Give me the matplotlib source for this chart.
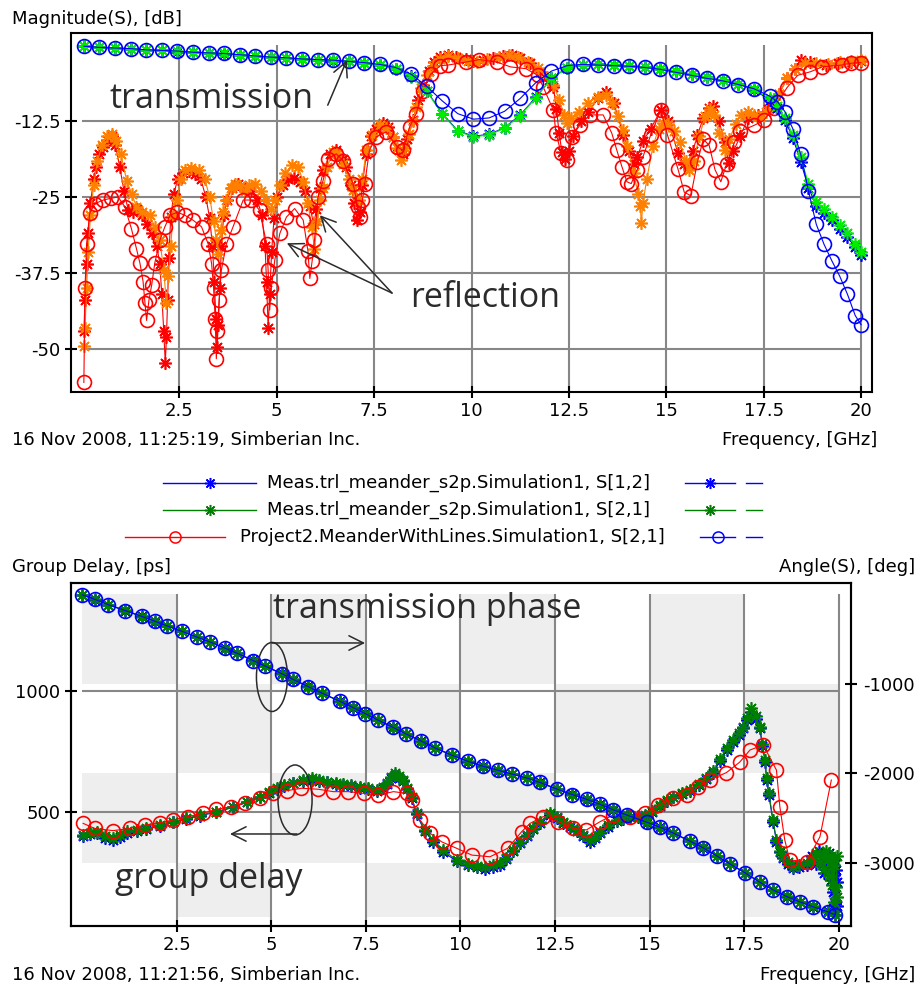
import matplotlib
matplotlib.use("Agg")
import matplotlib.pyplot as plt
from matplotlib.patches import Ellipse, Rectangle
from matplotlib.transforms import blended_transform_factory

plt.rcParams["font.family"] = "DejaVu Sans"
plt.rcParams["font.size"] = 13

# ---------------- magnitude of S-parameters, dB ----------------
tr_freq = [0.05, 0.45, 0.85, 1.25, 1.65, 2.05, 2.45, 2.85, 3.25, 3.65,
           4.05, 4.45, 4.85, 5.25, 5.65, 6.05, 6.45, 6.85, 7.25, 7.65,
           8.05, 8.45, 8.85, 9.25, 9.65, 10.05, 10.45, 10.85, 11.25, 11.65,
           12.05, 12.45, 12.85, 13.25, 13.65, 14.05, 14.45, 14.85, 15.25, 15.65,
           16.05, 16.45, 16.85, 17.25, 17.65, 17.85, 18.05, 18.25, 18.45, 18.65,
           18.85, 19.05, 19.25, 19.45, 19.65, 19.85, 20.0]
s21_sim_db = [-0.2, -0.4, -0.5, -0.6, -0.8, -0.9, -1.0, -1.2, -1.3, -1.4,
              -1.6, -1.8, -2.0, -2.1, -2.3, -2.4, -2.5, -2.7, -2.9, -3.2,
              -3.7, -4.8, -6.8, -9.2, -11.3, -12.2, -12.0, -10.9, -8.8, -6.2,
              -4.3, -3.4, -3.2, -3.3, -3.4, -3.5, -3.7, -4.0, -4.5, -5.0,
              -5.5, -5.9, -6.5, -7.2, -8.4, -9.3, -11.0, -13.8, -18.0, -24.0,
              -29.5, -32.8, -35.5, -38.0, -41.0, -44.5, -46.0]
s21_meas_db = [-0.2, -0.4, -0.5, -0.6, -0.8, -0.9, -1.0, -1.2, -1.3, -1.4,
               -1.6, -1.8, -2.0, -2.1, -2.3, -2.4, -2.5, -2.7, -2.9, -3.3,
               -3.9, -5.2, -7.6, -11.4, -14.2, -15.1, -14.8, -13.7, -11.6, -8.7,
               -5.5, -3.8, -3.3, -3.2, -3.3, -3.4, -3.6, -3.9, -4.3, -4.8,
               -5.3, -5.8, -6.4, -7.3, -8.8, -10.0, -12.0, -14.8, -18.5, -22.8,
               -25.8, -27.0, -28.3, -29.6, -31.0, -32.8, -34.0]
s12_meas_db = [-0.2, -0.4, -0.5, -0.7, -0.8, -0.9, -1.1, -1.2, -1.3, -1.5,
               -1.6, -1.8, -2.0, -2.2, -2.3, -2.4, -2.6, -2.7, -2.9, -3.3,
               -3.9, -5.1, -7.5, -11.3, -14.1, -15.0, -14.7, -13.6, -11.5, -8.6,
               -5.5, -3.8, -3.3, -3.2, -3.3, -3.4, -3.6, -3.9, -4.3, -4.8,
               -5.3, -5.8, -6.4, -7.4, -9.0, -10.3, -12.4, -15.3, -19.2, -23.5,
               -26.4, -27.6, -28.8, -30.2, -31.5, -33.2, -34.5]

s11_sim_freq = [0.05, 0.08, 0.12, 0.20, 0.33, 0.55, 0.75, 0.93, 1.10, 1.27,
                1.40, 1.49, 1.57, 1.62, 1.66, 1.72, 1.79, 1.87, 2.00, 2.13,
                2.26, 2.45, 2.64, 2.85, 3.07, 3.24, 3.33, 3.38, 3.42, 3.45,
                3.48, 3.52, 3.58, 3.71, 3.88, 4.14, 4.35, 4.56, 4.74, 4.78,
                4.82, 4.86, 4.95, 5.08, 5.25, 5.46, 5.68, 5.80, 5.85, 5.91,
                5.97, 6.06, 6.19, 6.32, 6.53, 6.70, 6.96, 7.08, 7.13, 7.20,
                7.26, 7.38, 7.56, 7.81, 8.10, 8.24, 8.41, 8.58, 8.75, 8.95,
                9.20, 9.40, 9.86, 10.20, 10.65, 11.00, 11.40, 11.70, 11.84, 12.10,
                12.17, 12.30, 12.44, 12.57, 12.78, 13.04, 13.38, 13.60, 13.73, 13.86,
                13.99, 14.10, 14.25, 14.40, 14.60, 14.86, 15.03, 15.30, 15.46, 15.63,
                15.80, 15.95, 16.10, 16.25, 16.40, 16.55, 16.75, 16.90, 17.26, 17.50,
                17.77, 18.10, 18.37, 18.70, 19.00, 19.50, 19.75, 20.00]
s11_sim_db = [-55.5, -40.0, -32.7, -27.7, -26.1, -25.5, -25.2, -25.0, -26.6, -30.2,
              -33.5, -35.9, -38.9, -42.5, -45.3, -42.0, -39.5, -35.9, -32.1, -29.9,
              -28.0, -27.5, -28.0, -28.8, -29.9, -32.7, -36.0, -40.0, -45.0, -51.6,
              -47.0, -42.0, -37.0, -32.7, -29.9, -25.5, -25.5, -27.2, -32.7, -37.0,
              -43.6, -40.0, -35.4, -31.0, -28.3, -26.9, -28.8, -33.8, -38.4, -35.5,
              -32.1, -25.0, -22.3, -18.7, -17.9, -19.0, -22.8, -26.6, -28.3, -25.5,
              -22.8, -17.3, -15.1, -14.3, -16.8, -17.3, -13.5, -11.3, -7.5, -4.8,
              -3.4, -3.3, -2.8, -2.4, -2.8, -3.6, -3.9, -5.0, -6.9, -10.7,
              -14.5, -17.8, -18.9, -15.1, -13.2, -11.5, -11.5, -14.5, -17.3, -20.0,
              -22.5, -22.8, -20.5, -18.4, -14.8, -10.7, -14.8, -20.4, -24.2, -24.8,
              -19.2, -15.5, -16.5, -20.5, -22.5, -19.5, -16.0, -14.2, -13.2, -12.4,
              -10.3, -7.0, -5.0, -4.4, -3.6, -3.3, -3.0, -2.9]

s11_meas_freq = [0.05, 0.08, 0.12, 0.16, 0.22, 0.30, 0.37, 0.45, 0.55, 0.65,
                 0.76, 0.86, 0.97, 1.08, 1.19, 1.30, 1.42, 1.55, 1.68, 1.80,
                 1.92, 2.00, 2.05, 2.10, 2.14, 2.17, 2.20, 2.23, 2.28, 2.36,
                 2.46, 2.60, 2.75, 2.90, 3.05, 3.18, 3.28, 3.35, 3.40, 3.44,
                 3.47, 3.50, 3.54, 3.58, 3.64, 3.72, 3.85, 4.00, 4.18, 4.35,
                 4.50, 4.62, 4.70, 4.74, 4.78, 4.82, 4.87, 4.93, 5.02, 5.15,
                 5.30, 5.45, 5.60, 5.72, 5.85, 5.95, 6.02, 6.10, 6.20, 6.36,
                 6.53, 6.70, 6.79, 6.90, 6.98, 7.06, 7.13, 7.20, 7.30, 7.42,
                 7.56, 7.73, 7.85, 7.98, 8.15, 8.24, 8.35, 8.50, 8.62, 8.75,
                 8.90, 9.05, 9.20, 9.40, 9.60, 9.85, 10.05, 10.30, 10.55, 10.80,
                 11.03, 11.25, 11.50, 11.76, 12.00, 12.10, 12.18, 12.25, 12.32, 12.40,
                 12.50, 12.60, 12.80, 13.00, 13.25, 13.46, 13.65, 13.90, 14.05, 14.16,
                 14.25, 14.40, 14.60, 14.86, 15.05, 15.30, 15.45, 15.55, 15.68, 15.80,
                 15.95, 16.10, 16.20, 16.35, 16.50, 16.60, 16.72, 16.90, 17.10, 17.35,
                 17.60, 17.90, 18.10, 18.30, 18.45, 18.70, 19.10, 19.40, 19.75, 20.00]
s11_meas_db = [-47.0, -42.0, -36.0, -31.0, -26.0, -22.0, -20.0, -18.0, -16.8, -15.6,
               -15.0, -16.5, -20.0, -24.0, -27.2, -27.5, -27.0, -28.0, -29.5, -31.0,
               -33.0, -36.0, -41.0, -47.0, -52.3, -48.0, -42.0, -35.0, -28.3, -24.5,
               -22.0, -21.0, -20.8, -21.2, -22.0, -25.0, -28.5, -33.0, -39.0, -45.0,
               -49.7, -46.0, -40.0, -33.0, -28.0, -25.5, -23.5, -22.8, -23.5, -24.0,
               -25.5, -28.0, -33.0, -39.0, -46.5, -41.0, -34.0, -28.5, -25.0, -23.0,
               -22.0, -21.8, -22.5, -24.0, -26.5, -29.5, -27.0, -23.5, -20.6, -17.9,
               -17.3, -18.8, -20.1, -23.0, -26.0, -28.8, -27.5, -23.0, -17.9, -15.0,
               -13.8, -12.9, -13.5, -15.1, -17.3, -17.9, -15.5, -12.4, -9.1, -6.5,
               -4.2, -2.8, -2.0, -1.6, -1.9, -2.3, -2.6, -2.5, -2.1, -1.8,
               -1.6, -2.1, -3.0, -4.4, -5.8, -6.9, -10.5, -14.5, -17.6, -18.8,
               -17.5, -15.0, -12.5, -11.0, -8.8, -7.8, -9.5, -14.8, -17.5, -19.5,
               -18.5, -15.8, -13.8, -10.7, -12.5, -17.8, -19.5, -19.8, -17.5, -14.8,
               -12.0, -10.4, -10.1, -12.5, -16.0, -19.4, -17.5, -15.0, -12.0, -11.5,
               -10.5, -8.0, -5.5, -4.0, -2.5, -2.8, -3.3, -3.0, -2.8, -2.6]

s22_meas_freq = [0.05, 0.08, 0.12, 0.16, 0.22, 0.30, 0.40, 0.52, 0.64, 0.76,
                 0.88, 1.00, 1.15, 1.28, 1.40, 1.55, 1.74, 1.88, 2.00, 2.10,
                 2.17, 2.22, 2.28, 2.34, 2.43, 2.54, 2.64, 2.81, 3.00, 3.15,
                 3.28, 3.38, 3.45, 3.50, 3.56, 3.63, 3.71, 3.82, 3.92, 4.05,
                 4.18, 4.30, 4.45, 4.60, 4.72, 4.85, 4.95, 5.08, 5.22, 5.40,
                 5.55, 5.68, 5.80, 5.90, 5.97, 6.04, 6.12, 6.20, 6.30, 6.44,
                 6.56, 6.70, 6.85, 6.96, 7.10, 7.20, 7.30, 7.45, 7.64, 7.80,
                 7.98, 8.10, 8.20, 8.30, 8.40, 8.50, 8.58, 8.70, 8.85, 9.00,
                 9.20, 9.40, 9.65, 9.90, 10.15, 10.40, 10.70, 10.95, 11.20, 11.45,
                 11.70, 11.95, 12.10, 12.25, 12.38, 12.44, 12.55, 12.75, 13.00, 13.25,
                 13.46, 13.60, 13.76, 13.90, 14.00, 14.16, 14.28, 14.33, 14.36, 14.40,
                 14.50, 14.66, 14.80, 14.92, 15.05, 15.20, 15.35, 15.50, 15.58, 15.70,
                 15.85, 16.00, 16.12, 16.22, 16.35, 16.50, 16.62, 16.78, 16.92, 17.10,
                 17.25, 17.40, 17.55, 17.70, 17.90, 18.10, 18.30, 18.55, 18.85, 19.15,
                 19.45, 19.75, 20.00]
s22_meas_db = [-49.5, -46.5, -40.0, -34.0, -28.0, -23.0, -19.0, -16.5, -15.0, -14.6,
               -15.8, -18.0, -22.3, -24.5, -26.6, -27.5, -28.0, -30.0, -32.1, -37.0,
               -42.5, -38.0, -33.0, -28.0, -25.5, -22.0, -20.6, -20.3, -20.5, -22.0,
               -25.0, -29.0, -32.0, -34.3, -30.5, -27.5, -25.5, -23.5, -22.8, -23.2,
               -24.0, -23.0, -22.8, -24.0, -25.5, -27.0, -25.5, -23.0, -21.0, -19.8,
               -20.0, -22.5, -26.0, -30.0, -33.5, -29.0, -25.5, -23.6, -20.0, -17.6,
               -17.8, -19.5, -22.0, -23.9, -25.5, -22.0, -17.3, -14.8, -13.2, -13.6,
               -15.1, -17.0, -18.9, -17.0, -14.6, -12.5, -10.2, -7.0, -5.0, -3.5,
               -2.3, -1.8, -2.1, -2.6, -2.8, -2.3, -1.9, -1.7, -2.0, -2.8,
               -3.8, -5.2, -6.5, -9.0, -11.5, -12.8, -12.0, -11.0, -9.5, -8.5,
               -8.2, -9.5, -11.7, -14.0, -16.6, -21.0, -24.5, -26.5, -29.3, -26.0,
               -22.0, -16.6, -13.8, -12.8, -13.0, -14.2, -16.0, -19.0, -20.5, -19.0,
               -15.0, -11.6, -10.5, -11.5, -14.5, -17.3, -15.5, -13.0, -11.5, -11.0,
               -11.5, -11.8, -11.0, -10.3, -8.0, -5.5, -4.0, -3.0, -2.9, -3.1,
               -2.8, -2.6, -2.5]

# ---------------- group delay, ps ----------------
gd_sim_freq = [0.03, 0.34, 0.82, 1.27, 1.66, 2.06, 2.41, 2.81, 3.20, 3.55,
               3.95, 4.30, 4.70, 5.05, 5.41, 5.80, 6.24, 6.64, 7.04, 7.44,
               7.83, 8.23, 8.58, 8.71, 8.93, 9.20, 9.50, 9.90, 10.30, 10.78,
               11.25, 11.62, 11.84, 12.19, 12.59, 12.98, 13.33, 13.69, 14.04, 14.48,
               14.87, 15.23, 15.62, 15.98, 16.29, 16.59, 17.03, 17.38, 17.65, 18.00,
               18.35, 18.44, 18.57, 18.70, 19.15, 19.50, 19.80]
gd_sim_ps = [453, 432, 423, 432, 446, 456, 467, 481, 495, 511,
             522, 536, 556, 577, 588, 598, 594, 584, 584, 577,
             570, 584, 577, 550, 467, 412, 377, 350, 322, 315,
             350, 419, 453, 481, 460, 432, 426, 460, 488, 481,
             495, 529, 556, 570, 605, 632, 663, 706, 756, 777,
             673, 522, 384, 302, 295, 398, 632]

gd_meas_freq = [0.03, 0.20, 0.40, 0.60, 0.82, 1.00, 1.20, 1.45, 1.70, 2.05,
                2.41, 2.75, 3.12, 3.55, 3.99, 4.35, 4.70, 4.95, 5.15, 5.35,
                5.58, 5.85, 6.07, 6.25, 6.47, 6.70, 6.90, 7.12, 7.34, 7.55,
                7.79, 7.95, 8.05, 8.17, 8.27, 8.38, 8.48, 8.60, 8.71, 8.84,
                9.06, 9.28, 9.54, 9.90, 10.20, 10.45, 10.65, 10.85, 11.04, 11.20,
                11.40, 11.58, 11.75, 11.92, 12.10, 12.36, 12.55, 12.72, 12.90, 13.07,
                13.25, 13.42, 13.55, 13.69, 13.90, 14.13, 14.30, 14.48, 14.68, 14.87,
                15.05, 15.27, 15.45, 15.62, 15.85, 16.06, 16.30, 16.50, 16.68, 16.86,
                17.05, 17.20, 17.35, 17.47, 17.58, 17.69, 17.80, 17.91, 17.98, 18.05,
                18.09, 18.15, 18.26, 18.35, 18.44, 18.53, 18.65, 18.79, 18.95, 19.15,
                19.30, 19.40, 19.48, 19.55, 19.60, 19.65, 19.70, 19.74, 19.78, 19.81,
                19.84, 19.86, 19.88, 19.90, 19.92, 19.94, 19.96]
gd21_meas_ps = [405, 412, 419, 402, 391, 405, 420, 426, 432, 445,
                460, 474, 488, 501, 522, 543, 563, 584, 598, 610,
                621, 632, 639, 632, 625, 620, 616, 610, 605, 598,
                591, 605, 619, 645, 660, 648, 632, 600, 563, 495,
                426, 384, 343, 302, 285, 278, 274, 280, 288, 310,
                343, 375, 405, 432, 460, 494, 478, 460, 442, 426,
                405, 384, 398, 419, 445, 467, 475, 481, 484, 488,
                505, 529, 548, 563, 577, 591, 615, 639, 668, 720,
                765, 798, 825, 852, 890, 928, 895, 852, 780, 715,
                640, 577, 467, 384, 340, 315, 292, 274, 280, 288,
                300, 330, 290, 320, 265, 340, 300, 235, 320, 200,
                310, 130, 280, 90, 190, 320, 150]
gd12_meas_ps = [400, 408, 414, 392, 383, 398, 415, 422, 428, 442,
                457, 471, 485, 499, 519, 540, 560, 580, 595, 607,
                618, 628, 634, 628, 622, 617, 612, 606, 601, 595,
                588, 600, 614, 640, 652, 642, 628, 596, 558, 490,
                420, 378, 336, 296, 279, 272, 266, 273, 282, 305,
                338, 370, 400, 428, 456, 489, 474, 456, 438, 421,
                400, 378, 392, 414, 440, 462, 471, 478, 481, 485,
                502, 526, 545, 560, 574, 588, 612, 636, 663, 712,
                758, 790, 818, 845, 882, 915, 885, 845, 772, 708,
                632, 570, 460, 378, 333, 308, 285, 268, 274, 282,
                320, 285, 340, 300, 250, 310, 275, 330, 220, 290,
                170, 300, 240, 120, 260, 210, 110]

# ---------------- transmission phase, deg ----------------
ph_freq = [0.01, 0.34, 0.70, 1.14, 1.58, 1.93, 2.24, 2.63, 3.03, 3.38,
           3.78, 4.09, 4.53, 4.84, 5.28, 5.58, 5.98, 6.33, 6.82, 7.17,
           7.48, 7.83, 8.22, 8.57, 8.97, 9.33, 9.77, 10.20, 10.60, 11.00,
           11.35, 11.75, 12.10, 12.55, 12.95, 13.34, 13.69, 14.03, 14.40, 14.93,
           15.27, 15.62, 16.06, 16.41, 16.77, 17.12, 17.52, 17.91, 18.26, 18.62,
           18.97, 19.32, 19.71, 19.90]
ph_sim_deg = [-5, -55, -115, -180, -245, -300, -350, -410, -475, -530,
              -600, -655, -740, -800, -885, -950, -1030, -1100, -1195, -1265,
              -1330, -1405, -1485, -1560, -1640, -1715, -1795, -1865, -1920, -1965,
              -2005, -2050, -2100, -2175, -2235, -2290, -2345, -2405, -2465, -2545,
              -2600, -2665, -2755, -2830, -2920, -3010, -3110, -3215, -3300, -3375,
              -3435, -3490, -3545, -3580]
ph21_meas_deg = [-8, -52, -118, -176, -248, -296, -354, -406, -478, -527,
                 -604, -651, -744, -797, -889, -946, -1034, -1096, -1199, -1261,
                 -1334, -1401, -1489, -1556, -1644, -1711, -1799, -1861, -1924, -1961,
                 -2009, -2046, -2104, -2171, -2239, -2286, -2349, -2401, -2469, -2541,
                 -2604, -2661, -2759, -2826, -2924, -3006, -3114, -3211, -3304, -3371,
                 -3439, -3486, -3549, -3576]
ph12_meas_deg = [-4, -57, -113, -183, -243, -303, -347, -413, -472, -533,
                 -597, -658, -737, -803, -882, -953, -1027, -1103, -1192, -1268,
                 -1327, -1408, -1482, -1563, -1637, -1718, -1792, -1868, -1917, -1968,
                 -2002, -2053, -2097, -2178, -2232, -2293, -2342, -2408, -2462, -2548,
                 -2597, -2668, -2752, -2833, -2917, -3013, -3107, -3218, -3297, -3378,
                 -3432, -3493, -3542, -3583]

freq_ticks = [2.5, 5, 7.5, 10, 12.5, 15, 17.5, 20]
freq_labels = ["2.5", "5", "7.5", "10", "12.5", "15", "17.5", "20"]
mag_ticks = [-12.5, -25, -37.5, -50]
mag_labels = ["-12.5", "-25", "-37.5", "-50"]
gd_ticks = [500, 1000]
gd_labels = ["500", "1000"]
ang_ticks = [-1000, -2000, -3000]
ang_labels = ["-1000", "-2000", "-3000"]
band_edges = [0, -1000, -2000, -3000, -3600]

legend_names = ["Meas.trl_meander_s2p.Simulation1, S[1,2]",
                "Meas.trl_meander_s2p.Simulation1, S[2,1]",
                "Project2.MeanderWithLines.Simulation1, S[2,1]"]

BLUE = "#0000ff"
LIME = "#00ee00"
GREEN = "#008000"
RED = "#ff0000"
ORANGE = "#ff8000"
GRID = "#878787"
INK = "#2b2b2b"
STAR = (8, 2, 0)

W, H = 918, 991


def box(l, t, r, b):
    return [l / W, 1 - b / H, (r - l) / W, (b - t) / H]


def trace(ax, f, v, color, marker, ms=9, z=3):
    ax.plot(f, v, color=color, lw=0.8, marker=marker, ms=ms, mfc="none",
            mec=color, mew=1.2, zorder=z, clip_on=False)


def style_axes(ax):
    for s in ax.spines.values():
        s.set_linewidth(1.5)
        s.set_color("black")
    ax.tick_params(direction="inout", length=9, width=1.5, pad=3, labelsize=13)
    ax.set_facecolor("none")


fig = plt.figure(figsize=(W / 100, H / 100), dpi=100)

# pixel layer for captions and legend
page = fig.add_axes([0, 0, 1, 1])
page.set_xlim(0, W)
page.set_ylim(H, 0)
page.axis("off")

page.text(12, 19, "Magnitude(S), [dB]", va="center")
page.text(12, 440, "16 Nov 2008, 11:25:19, Simberian Inc.", va="center")
page.text(877, 440, "Frequency, [GHz]", va="center", ha="right")
page.text(12, 567, "Group Delay, [ps]", va="center")
page.text(915, 567, "Angle(S), [deg]", va="center", ha="right")
page.text(12, 975, "16 Nov 2008, 11:21:56, Simberian Inc.", va="center")
page.text(915, 975, "Frequency, [GHz]", va="center", ha="right")

legend_rows = [(483, BLUE, STAR, 163, 256, 267, BLUE, STAR, 685),
               (510, GREEN, STAR, 163, 256, 267, GREEN, STAR, 685),
               (537, RED, "o", 125, 225, 240, BLUE, "o", 700)]
for (y, c, m, x0, x1, tx, c2, m2, rx), name in zip(legend_rows, legend_names):
    page.plot([x0, x1], [y, y], color=c, lw=1)
    page.plot([(x0 + x1) / 2], [y], marker=m, ms=8, mfc="none", mec=c, mew=1.1)
    page.text(tx, y, name, va="center", ha="left")
    page.plot([rx, 735], [y, y], color=c2, lw=1)
    page.plot([(rx + 735) / 2], [y], marker=m2, ms=8, mfc="none", mec=c2, mew=1.1)
    page.plot([746, 762], [y, y], color=c2, lw=1)

# ---------------- top: magnitude ----------------
ax_m = fig.add_axes(box(71, 33, 872, 392))
style_axes(ax_m)
ax_m.set_xlim(-0.28, 20.28)
ax_m.set_ylim(-57.07, 1.97)
ax_m.vlines(freq_ticks, -57.07, 0, color=GRID, lw=1.5, zorder=1)
ax_m.hlines(mag_ticks, 0, 20, color=GRID, lw=1.5, zorder=1)

trace(ax_m, s11_meas_freq, s11_meas_db, RED, STAR)
trace(ax_m, s22_meas_freq, s22_meas_db, ORANGE, STAR)
trace(ax_m, s11_sim_freq, s11_sim_db, RED, "o", ms=10)
trace(ax_m, tr_freq, s12_meas_db, BLUE, STAR)
trace(ax_m, tr_freq, s21_meas_db, LIME, STAR)
trace(ax_m, tr_freq, s21_sim_db, BLUE, "o", ms=10)

ax_m.set_xticks(freq_ticks)
ax_m.set_xticklabels(freq_labels)
ax_m.set_yticks(mag_ticks)
ax_m.set_yticklabels(mag_labels)

ann_font = dict(family="Open Sans", size=24.5, color=INK)
ax_m.text(0.72, -10.4, "transmission", va="baseline", **ann_font)
ax_m.text(8.42, -43.1, "reflection", va="baseline", **ann_font)
arrow = dict(arrowstyle="->,head_length=0.8,head_width=0.4", color=INK, lw=1.1,
             shrinkA=0, shrinkB=0)
ax_m.annotate("", xy=(6.80, -2.5), xytext=(6.31, -9.9), arrowprops=arrow)
ax_m.annotate("", xy=(6.11, -28.0), xytext=(7.96, -40.8), arrowprops=arrow)
ax_m.annotate("", xy=(5.26, -32.6), xytext=(7.96, -40.8), arrowprops=arrow)

# ---------------- bottom: group delay and phase ----------------
ax_g = fig.add_axes(box(71, 583, 851, 926))
ax_p = ax_g.twinx()
style_axes(ax_g)
style_axes(ax_p)
ax_g.set_xlim(-0.29, 20.32)
ax_g.set_ylim(29, 1446)
ax_p.set_ylim(-3704, 128)

# shaded cells follow the angle scale
mixed = blended_transform_factory(ax_g.transData, ax_p.transData)
for i in range(len(band_edges) - 1):
    for j in range(len(freq_ticks)):
        if (i + j) % 2 == 0:
            x0 = 0 if j == 0 else freq_ticks[j - 1]
            ax_g.add_patch(Rectangle((x0, band_edges[i + 1]), freq_ticks[j] - x0,
                                     band_edges[i] - band_edges[i + 1],
                                     transform=mixed, color="#eeeeee", lw=0, zorder=0))
ax_g.vlines(freq_ticks, -3704, 0, transform=mixed, color=GRID, lw=1.5, zorder=1)
ax_g.hlines(gd_ticks, 0, 20, color=GRID, lw=1.5, zorder=1)

trace(ax_g, gd_meas_freq, gd12_meas_ps, BLUE, STAR)
trace(ax_g, gd_meas_freq, gd21_meas_ps, GREEN, STAR)
trace(ax_g, gd_sim_freq, gd_sim_ps, RED, "o", ms=10)

trace(ax_p, ph_freq, ph12_meas_deg, BLUE, STAR)
trace(ax_p, ph_freq, ph21_meas_deg, GREEN, STAR)
trace(ax_p, ph_freq, ph_sim_deg, BLUE, "o", ms=10)

ax_g.set_xlim(-0.29, 20.32)
ax_g.set_ylim(29, 1446)
ax_p.set_ylim(-3704, 128)
ax_g.set_xticks(freq_ticks)
ax_g.set_xticklabels(freq_labels)
ax_g.set_yticks(gd_ticks)
ax_g.set_yticklabels(gd_labels)
ax_p.set_yticks(ang_ticks)
ax_p.set_yticklabels(ang_labels)
ax_p.tick_params(axis="y", pad=4)

ax_p.text(5.05, -263, "transmission phase", va="baseline", **ann_font)
ax_p.text(0.87, -3279, "group delay", va="baseline", **ann_font)
ax_p.add_patch(Ellipse((5.02, -922), 0.82, 771, fill=False, ec=INK, lw=1.1, zorder=6))
ax_p.add_patch(Ellipse((5.63, -2296), 0.90, 782, fill=False, ec=INK, lw=1.1, zorder=6))
ax_p.annotate("", xy=(7.48, -542), xytext=(5.02, -542), arrowprops=arrow)
ax_p.annotate("", xy=(3.91, -2676), xytext=(5.68, -2676), arrowprops=arrow)

fig.savefig("out.png", dpi=100)
